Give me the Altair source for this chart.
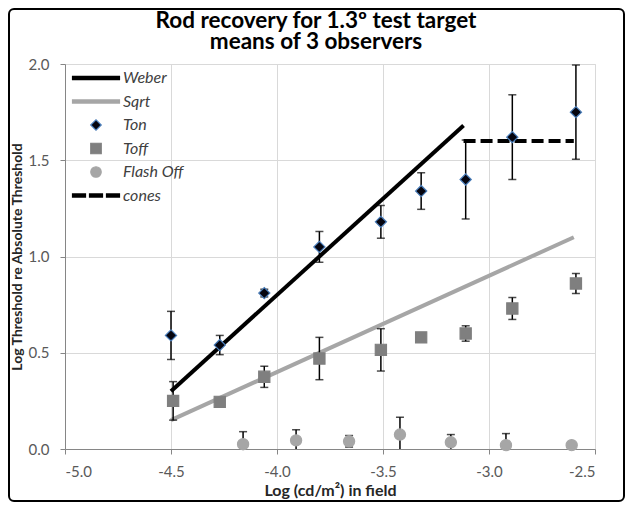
import altair as alt
import pandas as pd

# ---------------- data ----------------
ton_x = [-4.50, -4.27, -4.06, -3.80, -3.51, -3.32, -3.11, -2.89, -2.59]
ton_y = [0.59, 0.54, 0.81, 1.05, 1.18, 1.34, 1.40, 1.62, 1.75]
ton_err = [0.125, 0.05, 0.02, 0.08, 0.085, 0.095, 0.205, 0.22, 0.245]

toff_x = [-4.49, -4.27, -4.06, -3.80, -3.51, -3.32, -3.11, -2.89, -2.59]
toff_y = [0.25, 0.245, 0.375, 0.47, 0.515, 0.58, 0.60, 0.73, 0.86]
toff_err = [0.10, 0.0, 0.055, 0.11, 0.11, 0.0, 0.04, 0.057, 0.052]

flash_x = [-4.16, -3.91, -3.66, -3.42, -3.18, -2.92, -2.61]
flash_y = [0.025, 0.045, 0.04, 0.075, 0.035, 0.02, 0.02]
flash_err = [0.065, 0.055, 0.03, 0.09, 0.04, 0.06, 0.0]

weber_x = [-4.50, -3.12]
weber_y = [0.30, 1.68]
sqrt_x = [-4.50, -2.60]
sqrt_y = [0.15, 1.10]
cones_x = [-3.12, -2.60]
cones_y = [1.60, 1.60]

series_names = ["Weber", "Sqrt", "Ton", "Toff", "Flash Off", "cones"]
x_ticks = [-5.0, -4.5, -4.0, -3.5, -3.0, -2.5]
y_ticks = [0.0, 0.5, 1.0, 1.5, 2.0]

# ---------------- tables ----------------
pts = []
bars = []
caps = []
for name, xs, ys, es in [("Ton", ton_x, ton_y, ton_err),
                         ("Toff", toff_x, toff_y, toff_err),
                         ("Flash Off", flash_x, flash_y, flash_err)]:
    for xv, yv, ev in zip(xs, ys, es):
        pts.append({"series": name, "x": xv, "y": yv})
        if ev > 0:
            bars.append({"x": xv, "lo": yv - ev, "hi": yv + ev})
            caps.append({"x": xv, "y": yv - ev})
            caps.append({"x": xv, "y": yv + ev})
pts_df = pd.DataFrame(pts)
bars_df = pd.DataFrame(bars)
caps_df = pd.DataFrame(caps)
weber_df = pd.DataFrame({"x": weber_x, "y": weber_y})
sqrt_df = pd.DataFrame({"x": sqrt_x, "y": sqrt_y})
cones_df = pd.DataFrame({"x": cones_x, "y": cones_y})

FONT = "Lato"
# legend glyphs for the line series (filled thin bars, unit = sqrt(symbolSize)/2)
LINE_PATH = "M-4.48,-0.3H4.48V0.3H-4.48Z"
DASH_PATH = "M-4.48,-0.3H-2.0V0.3H-4.48Z M-1.24,-0.3H1.24V0.3H-1.24Z M2.0,-0.3H4.48V0.3H2.0Z"

x_scale = alt.Scale(domain=[-5.0, -2.5], nice=False, zero=False)
y_scale = alt.Scale(domain=[0.0, 2.0], nice=False)
x_axis = alt.Axis(
    title="Log (cd/m\u00b2) in field", values=x_ticks,
    labelExpr="replace(format(datum.value, '.1f'), '\u2212', '-')",
    grid=True, gridColor="#d9d9d9", domainColor="#868686", tickColor="#868686",
    tickSize=5, labelPadding=10, labelFont=FONT, labelFontSize=15, labelColor="#595959",
    titleFont=FONT, titleFontSize=16, titleFontWeight="bold", titleColor="#262626",
    titlePadding=3,
)
y_axis = alt.Axis(
    title="Log Threshold re Absolute Threshold", values=y_ticks, format=".1f",
    grid=True, gridColor="#d9d9d9", domainColor="#868686", tickColor="#868686",
    tickSize=5, labelPadding=11, labelFont=FONT, labelFontSize=15, labelColor="#595959",
    titleFont=FONT, titleFontSize=14, titleFontWeight="bold", titleColor="#262626",
    titlePadding=4,
)

def X(field="x"):
    return alt.X(f"{field}:Q", scale=x_scale, axis=x_axis)

def Y(field="y"):
    return alt.Y(f"{field}:Q", scale=y_scale, axis=y_axis)

legend = alt.Legend(
    title=None, orient="none", legendX=23, legendY=6, padding=0,
    symbolSize=110, symbolStrokeWidth=1.2,
    labelFont=FONT, labelFontSize=16, labelFontStyle="italic", labelColor="#404040",
    labelOffset=19, rowPadding=7.5,
)

sqrt_line = alt.Chart(sqrt_df).mark_line(color="#a6a6a6", strokeWidth=4, clip=True).encode(x=X(), y=Y())
weber_line = alt.Chart(weber_df).mark_line(color="black", strokeWidth=4, clip=True).encode(x=X(), y=Y())
cones_line = alt.Chart(cones_df).mark_line(color="black", strokeWidth=4, strokeDash=[12, 5], clip=True).encode(x=X(), y=Y())

err_rules = alt.Chart(bars_df).mark_rule(color="black", strokeWidth=1.5, clip=True).encode(
    x=X(), y=Y("lo"), y2="hi:Q")
err_caps = alt.Chart(caps_df).mark_tick(orient="horizontal", size=8, thickness=1.5, color="black", clip=True).encode(
    x=X(), y=Y())

points = alt.Chart(pts_df).mark_point(filled=True, opacity=1, size=125, strokeWidth=1.2).encode(
    x=X(), y=Y(),
    shape=alt.Shape("series:N", scale=alt.Scale(domain=series_names,
                    range=[LINE_PATH, LINE_PATH, "diamond", "square", "circle", DASH_PATH]), legend=legend),
    fill=alt.Fill("series:N", scale=alt.Scale(domain=series_names,
                  range=["#000000", "#a6a6a6", "#05050f", "#7f7f7f", "#a6a6a6", "#000000"]), legend=legend),
    stroke=alt.Stroke("series:N", scale=alt.Scale(domain=series_names,
                      range=["#000000", "#a6a6a6", "#4a7ebb", "#7f7f7f", "#a6a6a6", "#000000"]), legend=legend),
)

border = alt.Chart(pd.DataFrame({"a": [0]})).mark_rect(
    fill="white", fillOpacity=0, stroke="black", strokeWidth=2, cornerRadius=5, clip=False
).encode(x=alt.value(-56), x2=alt.value(559), y=alt.value(-55), y2=alt.value(437))

chart = alt.layer(
    sqrt_line, weber_line, cones_line, err_rules, err_caps, points, border
).properties(
    width=530, height=385,
    title=alt.TitleParams(
        text=["Rod recovery for 1.3\u00ba test target", "means of 3 observers"],
        font=FONT, fontSize=22.5, fontWeight="bold", color="#000000",
        anchor="middle", dx=-14, dy=45, offset=0, lineHeight=21,
    ),
    autosize=alt.AutoSizeParams(type="none"),
    padding={"left": 57, "top": 56, "right": 30, "bottom": 53},
).configure_view(stroke=None).configure(background="white")

chart.save("out.html", embed_options={"renderer": "svg", "actions": False})
